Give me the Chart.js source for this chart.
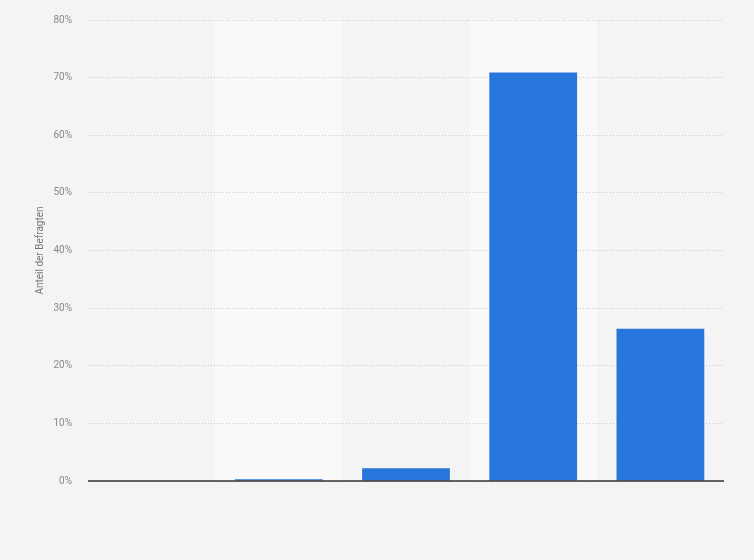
<!DOCTYPE html>
<html>
<head>
<meta charset="utf-8">
<script src="https://cdn.jsdelivr.net/npm/chart.js@4/dist/chart.umd.min.js"></script>
<style>
    html, body { margin: 0; padding: 0; background: #f4f4f4; }
    #wrap { width: 754px; height: 560px; }
</style>
</head>
<body>
<div id="wrap"><canvas id="chart" width="754" height="560"></canvas></div>
<script>
// Kategorien sind im Bild nicht beschriftet
const categories = ['', '', '', '', ''];
const shares = [0, 0.3, 2.2, 70.9, 26.4];
const yTicks = [0, 10, 20, 30, 40, 50, 60, 70, 80];

// helle Streifen hinter jeder zweiten Kategorie, dunkle Nulllinie
const bandPlugin = {
    id: 'bands',
    beforeDraw(chart) {
        const ctx = chart.ctx;
        const x = chart.scales.x;
        const area = chart.chartArea;
        const step = x.getPixelForValue(1) - x.getPixelForValue(0);
        ctx.save();
        ctx.fillStyle = '#f9f9f9';
        for (let i = 1; i < categories.length; i += 2) {
            const cx = x.getPixelForValue(i);
            ctx.fillRect(cx - step / 2, area.top - 1, step, area.bottom - area.top + 1);
        }
        ctx.restore();
    },
    afterDatasetsDraw(chart) {
        const ctx = chart.ctx;
        const area = chart.chartArea;
        const y0 = chart.scales.y.getPixelForValue(0);
        ctx.save();
        ctx.strokeStyle = '#333333';
        ctx.lineWidth = 1.5;
        ctx.beginPath();
        ctx.moveTo(area.left, y0);
        ctx.lineTo(area.right, y0);
        ctx.stroke();
        ctx.restore();
    }
};

new Chart(document.getElementById('chart'), {
    type: 'bar',
    data: {
        labels: categories,
        datasets: [{
            data: shares,
            backgroundColor: '#2776dc',
            categoryPercentage: 0.69,
            barPercentage: 1
        }]
    },
    plugins: [bandPlugin],
    options: {
        responsive: false,
        animation: false,
        layout: { padding: { left: 0, right: 30, top: 20, bottom: 79 } },
        plugins: { legend: { display: false }, tooltip: { enabled: false } },
        scales: {
            x: {
                grid: { display: false },
                border: { display: false },
                ticks: { display: false },
                afterFit(scale) { scale.height = 0; }
            },
            y: {
                min: 0,
                max: 80,
                afterBuildTicks(scale) { scale.ticks = yTicks.map(v => ({ value: v })); },
                afterFit(scale) {
                    scale.width = 88;
                    scale.paddingTop = 0;
                    scale.paddingBottom = 0;
                },
                border: { display: false, dash: [1, 2] },
                grid: {
                    color: '#c8c8c8',
                    lineWidth: 1,
                    drawTicks: false
                },
                ticks: {
                    padding: 16,
                    color: '#888888',
                    font: { family: 'Roboto', size: 10 },
                    callback: v => v + '%'
                },
                title: {
                    display: true,
                    text: 'Anteil der Befragten',
                    color: '#777777',
                    font: { family: 'Roboto', size: 10 },
                    padding: { top: 34, bottom: 0 }
                }
            }
        }
    }
});
</script>
</body>
</html>
